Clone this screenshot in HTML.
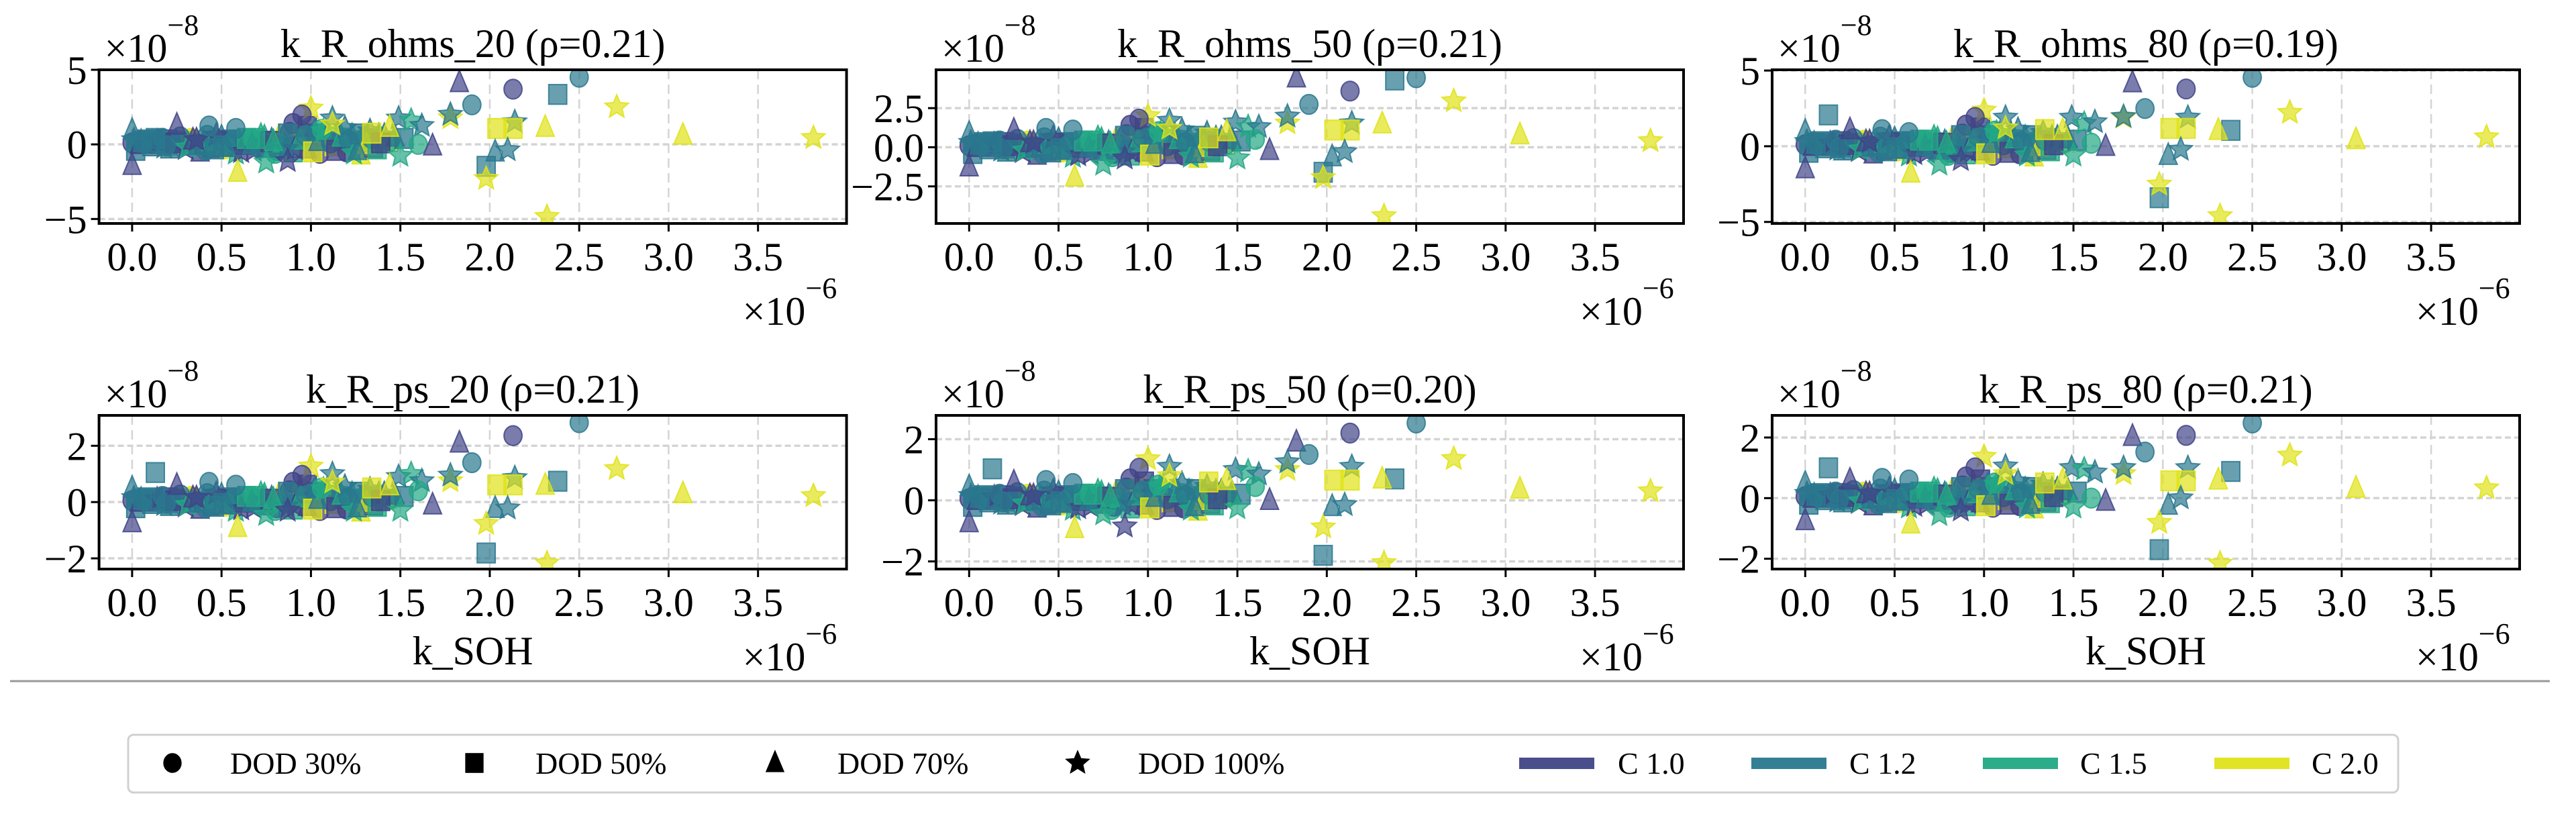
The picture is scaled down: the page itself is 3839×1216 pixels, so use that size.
<!DOCTYPE html>
<html><head><meta charset="utf-8">
<style>
html,body{margin:0;padding:0;background:#fff;}
svg{display:block;font-family:"Liberation Serif","DejaVu Serif",serif;}
</style></head>
<body>
<svg id="fig" width="3839" height="1216" viewBox="0 0 3839 1216" xmlns="http://www.w3.org/2000/svg">
<rect x="0" y="0" width="3839" height="1216" fill="#fff"/>
<g id="panels"></g>
<line x1="15" y1="1015" x2="3800" y2="1015" stroke="#999" stroke-width="3"/>
<g id="legend">
<rect x="191" y="1095" width="3383" height="86" rx="8" fill="#fff" stroke="#d0d0d0" stroke-width="3"/>
</g>
</svg>
<script>
// ---- data (k_SOH in units of 1e-6, responses in units of 1e-8) ----
const dodLabels = ["DOD 30%","DOD 50%","DOD 70%","DOD 100%"];
const cLabels = ["C 1.0","C 1.2","C 1.5","C 2.0"];
const panelTitles = ["k_R_ohms_20 (ρ=0.21)","k_R_ohms_50 (ρ=0.21)","k_R_ohms_80 (ρ=0.19)","k_R_ps_20 (ρ=0.21)","k_R_ps_50 (ρ=0.20)","k_R_ps_80 (ρ=0.21)"];
const xTicks = [0.0,0.5,1.0,1.5,2.0,2.5,3.0,3.5];
const xTickLabels = ["0.0","0.5","1.0","1.5","2.0","2.5","3.0","3.5"];
const yTicks1 = [-5,0,5];
const yTickLabels1 = ["−5","0","5"];
const yTicks2 = [-2.5,0,2.5];
const yTickLabels2 = ["−2.5","0.0","2.5"];
const yTicksPs = [-2,0,2];
const yTickLabelsPs = ["−2","0","2"];
const yLims = [[-5.3,5.0],[-4.87,4.95],[-5.1,5.05],[-2.38,3.08],[-2.25,2.78],[-2.34,2.73]];
const xLim = [-0.185,3.995];

// outlier points: x, dod index, c-rate index
const outX = [1.83,2.50,2.13,2.38,1.90,2.71,1.78,1.78,2.14,2.04,2.13,2.31,3.08,3.81,2.03,2.10,1.98,1.98,2.32,0.59,0.0,0.13,1.00,0.95,1.12,1.49,1.56,1.62,1.44,1.34,1.60,1.68,1.50,0.75,0.87,0.25,0.43,0.58,0.0,1.12];
const outD = [2,0,0,1,0,3,3,3,3,1,1,2,2,3,2,3,1,3,3,2,2,1,3,0,3,3,3,3,2,1,0,2,3,3,3,2,0,0,2,3];
const outC = [0,1,0,1,1,3,3,1,1,3,3,3,3,3,1,1,1,3,3,3,0,1,3,0,1,1,2,1,3,3,2,0,2,2,0,0,1,1,1,3];
const outY1 = [4.15,4.5,3.7,3.35,2.65,2.5,1.77,2.0,1.5,1.07,1.07,1.15,0.62,0.44,-0.5,-0.38,-1.47,-2.3,-4.85,-1.86,-1.4,0.4,2.42,1.97,1.75,1.75,1.6,1.25,1.15,0.75,0.0,-0.1,-0.75,-1.2,-1.1,1.3,1.23,1.07,0.95,1.35];
const outY2 = [4.44,4.44,3.59,4.3,2.74,2.95,1.54,1.97,1.54,1.1,1.1,1.5,0.8,0.4,-0.6,-0.3,-1.6,-1.95,-4.39,-1.9,-1.25,0.35,2.0,1.8,1.7,1.6,1.3,1.3,1.0,0.6,0.5,-0.2,-0.7,-1.1,-0.7,1.1,1.2,1.1,0.9,1.2];
const outY3 = [4.2,4.55,3.78,1.05,2.49,2.22,1.9,1.95,1.9,1.18,1.18,1.05,0.44,0.6,-0.6,-0.22,-3.4,-2.52,-4.6,-1.77,-1.48,2.07,2.37,1.9,1.9,1.9,1.5,1.6,1.05,1.1,0.2,0.0,-0.6,-1.2,-0.9,1.1,1.1,0.9,1.0,1.2];
const outY4 = [2.1,2.82,2.36,0.74,1.4,1.18,0.75,0.95,0.86,0.61,0.61,0.6,0.3,0.22,-0.22,-0.22,-1.81,-0.77,-2.17,-0.9,-0.73,1.05,1.27,0.95,1.0,0.9,1.0,0.75,0.58,0.5,0.4,-0.1,-0.3,-0.45,-0.3,0.6,0.7,0.6,0.5,0.7];
const outY5 = [1.91,2.53,2.2,0.7,1.5,1.36,1.0,1.25,1.1,0.66,0.66,0.7,0.37,0.3,-0.2,-0.15,-1.8,-0.88,-2.05,-0.92,-0.73,1.03,1.35,1.05,1.1,1.0,0.95,0.85,0.65,0.6,0.45,0.0,-0.25,-0.45,-0.85,0.6,0.65,0.55,0.45,0.8];
const outY6 = [2.04,2.48,2.07,0.88,1.52,1.41,0.8,1.0,1.0,0.57,0.57,0.6,0.33,0.33,-0.23,0.0,-1.7,-0.81,-2.15,-0.85,-0.74,1.0,1.37,1.0,1.05,1.0,0.95,0.85,0.6,0.5,0.0,-0.1,-0.3,-0.55,-0.4,0.6,0.65,0.6,0.5,0.8];

// dense cluster (part A)
const clX = [0.0,0.02,0.05,0.08,0.1,0.12,0.15,0.18,0.2,0.22,0.25,0.28,0.3,0.33,0.35,0.38,0.4,0.42,0.45,0.48,0.5,0.52,0.55,0.58,0.6,0.62,0.65,0.68,0.7,0.72,0.75,0.78,0.8,0.82,0.85,0.88,0.9,0.92,0.95,0.98,1.0,1.03,1.05,1.08,1.1,1.13,1.15,1.18,1.2,1.23,1.25,1.28,1.3,1.33,1.35,1.38,1.4,1.45,0.98,0.9,1.02,1.15];
const clD = [0,1,2,1,0,1,2,3,1,0,2,1,3,0,1,2,3,0,1,3,2,0,1,3,2,1,0,3,2,3,1,3,0,3,2,0,1,3,0,2,3,1,0,3,2,1,3,2,0,3,1,2,0,3,1,2,3,0,1,0,3,2];
const clC = [0,1,1,1,0,1,0,1,0,1,2,1,0,3,1,0,2,1,0,2,1,3,1,2,0,1,2,0,1,2,0,1,2,3,1,0,2,1,3,0,2,1,0,2,1,3,2,1,0,2,1,3,2,1,0,1,2,3,0,0,1,1];
const clYohms = [0.1,-0.4,0.2,0.3,0.1,0.2,0.0,-0.2,0.3,0.1,-0.1,0.2,-0.3,0.4,0.0,-0.5,0.2,0.6,-0.2,0.1,0.5,-0.3,0.3,-0.6,0.2,0.0,0.4,-0.4,0.1,0.6,-0.2,0.3,-0.6,0.5,0.0,0.8,-0.5,0.2,0.9,-0.3,0.4,0.7,-0.6,0.3,0.5,-0.1,0.8,0.2,-0.5,0.6,0.1,-0.7,0.4,0.9,-0.2,0.6,0.3,0.2,1.2,1.4,0.9,0.6];
const clYps = [0.05,-0.2,0.1,0.15,0.05,0.1,0.0,-0.1,0.15,0.05,-0.05,0.1,-0.15,0.2,0.0,-0.25,0.1,0.3,-0.1,0.05,0.25,-0.15,0.15,-0.3,0.1,0.0,0.2,-0.2,0.05,0.3,-0.1,0.15,-0.3,0.25,0.0,0.4,-0.25,0.1,0.45,-0.15,0.2,0.35,-0.3,0.15,0.25,-0.05,0.4,0.1,-0.25,0.3,0.05,-0.35,0.2,0.45,-0.1,0.3,0.15,0.1,0.6,0.7,0.45,0.3];

// dense cluster (part B)
const cl2X = [0.01,0.04,0.07,0.11,0.14,0.17,0.21,0.24,0.27,0.31,0.34,0.37,0.41,0.44,0.47,0.51,0.54,0.57,0.61,0.64,0.67,0.71,0.74,0.77,0.81,0.84,0.87,0.91,0.94,0.97,1.01,1.04,1.07,1.11,1.14,1.17,1.21,1.24,1.27,1.31,1.34,1.37,1.41,1.44,1.47,1.52,0.06,0.19,0.36,0.53,0.69,0.86,1.06,1.26,0.46,0.79,1.19,1.39];
const cl2D = [3,2,0,1,3,0,2,1,0,3,2,1,0,2,3,1,2,0,3,1,2,0,3,1,0,2,1,3,2,0,1,2,3,0,1,2,0,3,1,2,0,1,3,0,2,1,1,0,3,2,1,3,0,2,1,2,3,1];
const cl2C = [1,0,1,1,0,1,1,0,1,2,0,1,1,2,0,1,2,1,0,2,1,1,2,0,1,2,1,0,2,1,3,1,2,1,0,2,1,2,1,3,1,2,1,2,1,1,1,1,0,1,2,1,2,1,1,2,1,0];
const cl2Yohms = [0.3,0.0,0.1,-0.1,0.2,0.4,-0.3,0.1,0.5,-0.2,0.3,0.0,-0.4,0.2,0.6,-0.1,0.1,0.3,-0.5,0.4,0.0,-0.2,0.5,0.2,-0.4,0.1,0.7,-0.3,0.3,0.6,-0.5,0.2,0.9,0.1,-0.4,0.5,0.3,-0.6,0.7,0.0,0.4,-0.3,0.6,0.2,0.5,0.4,0.2,-0.1,0.3,-0.2,0.4,-0.3,1.0,-0.4,-0.3,0.2,1.1,0.1];
const cl2Yps = [0.15,0.0,0.05,-0.05,0.1,0.2,-0.15,0.05,0.25,-0.1,0.15,0.0,-0.2,0.1,0.3,-0.05,0.05,0.15,-0.25,0.2,0.0,-0.1,0.25,0.1,-0.2,0.05,0.35,-0.15,0.15,0.3,-0.25,0.1,0.45,0.05,-0.2,0.25,0.15,-0.3,0.35,0.0,0.2,-0.15,0.3,0.1,0.25,0.2,0.1,-0.05,0.15,-0.1,0.2,-0.15,0.5,-0.2,-0.15,0.1,0.55,0.05];

const outYs = [outY1,outY2,outY3,outY4,outY5,outY6];
const yTickSets = [yTicks1,yTicks2,yTicks1,yTicksPs,yTicksPs,yTicksPs];
const yTickLabelSets = [yTickLabels1,yTickLabels2,yTickLabels1,yTickLabelsPs,yTickLabelsPs,yTickLabelsPs];
const cColors = ["#414487","#2a788e","#22a884","#dfe318"];

// ---- layout ----
const NS = "http://www.w3.org/2000/svg";
const colLeft = [147.6,1395,2641];
const axW = 1114;
const rowTop = [104,619];
const axH = 229;
const MS = 1.22;

function mk(tag, attrs, parent){
  const e = document.createElementNS(NS, tag);
  for (const k in attrs) e.setAttribute(k, attrs[k]);
  parent.appendChild(e);
  return e;
}
function starPts(cx, cy, R){
  const r = R*0.45; let p = [];
  for (let i=0;i<10;i++){
    const a = -Math.PI/2 + i*Math.PI/5;
    const rr = (i%2===0)?R:r;
    p.push((cx+rr*Math.cos(a)).toFixed(1)+","+(cy+rr*Math.sin(a)).toFixed(1));
  }
  return p.join(" ");
}
function marker(parent, shape, cx, cy, color, opacity, s){
  let e;
  if (shape===0){ e = mk("ellipse",{cx:cx,cy:cy,rx:11*s,ry:12*s},parent); }
  else if (shape===1){ e = mk("rect",{x:cx-11*s,y:cy-12*s,width:22*s,height:24*s},parent); }
  else if (shape===2){ e = mk("polygon",{points:`${cx},${cy-15*s} ${cx+11*s},${cy+11*s} ${cx-11*s},${cy+11*s}`},parent); }
  else { e = mk("polygon",{points:starPts(cx,cy,15*s)},parent); }
  e.setAttribute("fill", color);
  e.setAttribute("fill-opacity", opacity);
  e.setAttribute("stroke", color);
  e.setAttribute("stroke-opacity", Math.min(1,opacity+0.15));
  e.setAttribute("stroke-width", 2);
  return e;
}

const panelsG = document.getElementById("panels");
for (let p=0;p<6;p++){
  const row = Math.floor(p/3), col = p%3;
  const L = colLeft[col], T = rowTop[row], R = L+axW, B = T+axH;
  const yl = yLims[p];
  const sx = v => L + (v - xLim[0])/(xLim[1]-xLim[0])*axW;
  const sy = v => B - (v - yl[0])/(yl[1]-yl[0])*axH;
  const g = mk("g",{},panelsG);
  
  
  const cid = "clip"+p;
  const cp = mk("clipPath",{id:cid},g);
  mk("rect",{x:L,y:T,width:axW,height:axH},cp);
  const grid = mk("g",{},g);
  
  
  xTicks.forEach(v=>{ mk("line",{x1:sx(v),y1:T,x2:sx(v),y2:B,stroke:"#d4d4d4","stroke-width":2.5,"stroke-dasharray":"14,8"},grid); });
  yTickSets[p].forEach(v=>{ mk("line",{x1:L,y1:sy(v),x2:R,y2:sy(v),stroke:"#d4d4d4","stroke-width":3.5,"stroke-dasharray":"9,5"},grid); });
  const pts = mk("g",{"clip-path":`url(#${cid})`},g);
  
  
  const clY = row===0 ? clYohms : clYps;
  const cl2Y = row===0 ? cl2Yohms : cl2Yps;
  for (let i=0;i<clX.length;i++){
    const m = marker(pts, clD[i], sx(clX[i]), sy(clY[i]), cColors[clC[i]], 0.75, MS);
    
    
  }
  for (let i=0;i<cl2X.length;i++){
    const m = marker(pts, cl2D[i], sx(cl2X[i]), sy(cl2Y[i]), cColors[cl2C[i]], 0.75, MS);
    
    
  }
  const oy = outYs[p];
  for (let i=0;i<outX.length;i++){
    const m = marker(pts, outD[i], sx(outX[i]), sy(oy[i]), cColors[outC[i]], 0.7, MS);
    
    
  }
  const fr = mk("rect",{x:L,y:T,width:axW,height:axH,fill:"none",stroke:"#000","stroke-width":4},g);
  
  
  xTicks.forEach((v,i)=>{
    mk("line",{x1:sx(v),y1:B,x2:sx(v),y2:B+12,stroke:"#000","stroke-width":3},g);
    const t = mk("text",{x:sx(v),y:B+70,"font-size":60,"text-anchor":"middle",fill:"#000"},g);
    t.textContent = xTickLabels[i];
    
    
  });
  yTickSets[p].forEach((v,i)=>{
    mk("line",{x1:L-12,y1:sy(v),x2:L,y2:sy(v),stroke:"#000","stroke-width":3},g);
    const t = mk("text",{x:L-18,y:sy(v)+21,"font-size":60,"text-anchor":"end",fill:"#000"},g);
    t.textContent = yTickLabelSets[p][i];
    
    
  });
  const tt = mk("text",{x:L+axW/2,y:T-19,"font-size":60,"text-anchor":"middle",fill:"#000"},g);
  tt.textContent = panelTitles[p];
  
  
  const yo = mk("text",{x:L+8,y:T-12,"font-size":60,fill:"#000"},g);
  yo.innerHTML = '×10<tspan font-size="44" dy="-40">−8</tspan>';
  
  
  const xo = mk("text",{x:R-155,y:B+151,"font-size":60,fill:"#000"},g);
  xo.innerHTML = '×10<tspan font-size="44" dy="-40">−6</tspan>';
  
  
  if (row===1){
    const xl = mk("text",{x:L+axW/2,y:B+142,"font-size":60,"text-anchor":"middle",fill:"#000"},g);
    xl.textContent = "k_SOH";
    
    
  }
}

// legend
const lg = document.getElementById("legend");
const mX = [257,707,1155,1606];
const tX = [343,798,1248,1696];
for (let i=0;i<4;i++){
  const e = mk("g",{},lg);
  
  
  marker(e, i, mX[i], 1137, "#000", 1, 1.15);
  const t = mk("text",{x:tX[i],y:1153,"font-size":46,fill:"#000"},e);
  t.textContent = dodLabels[i];
}
const pX = [2264,2610,2955,3300];
const ptX = [2411,2756,3100,3445];
for (let i=0;i<4;i++){
  const e = mk("g",{},lg);
  
  
  mk("rect",{x:pX[i],y:1129,width:112,height:17,fill:cColors[i],"fill-opacity":0.95},e);
  const t = mk("text",{x:ptX[i],y:1153,"font-size":46,fill:"#000"},e);
  t.textContent = cLabels[i];
}
</script>
</body></html>
